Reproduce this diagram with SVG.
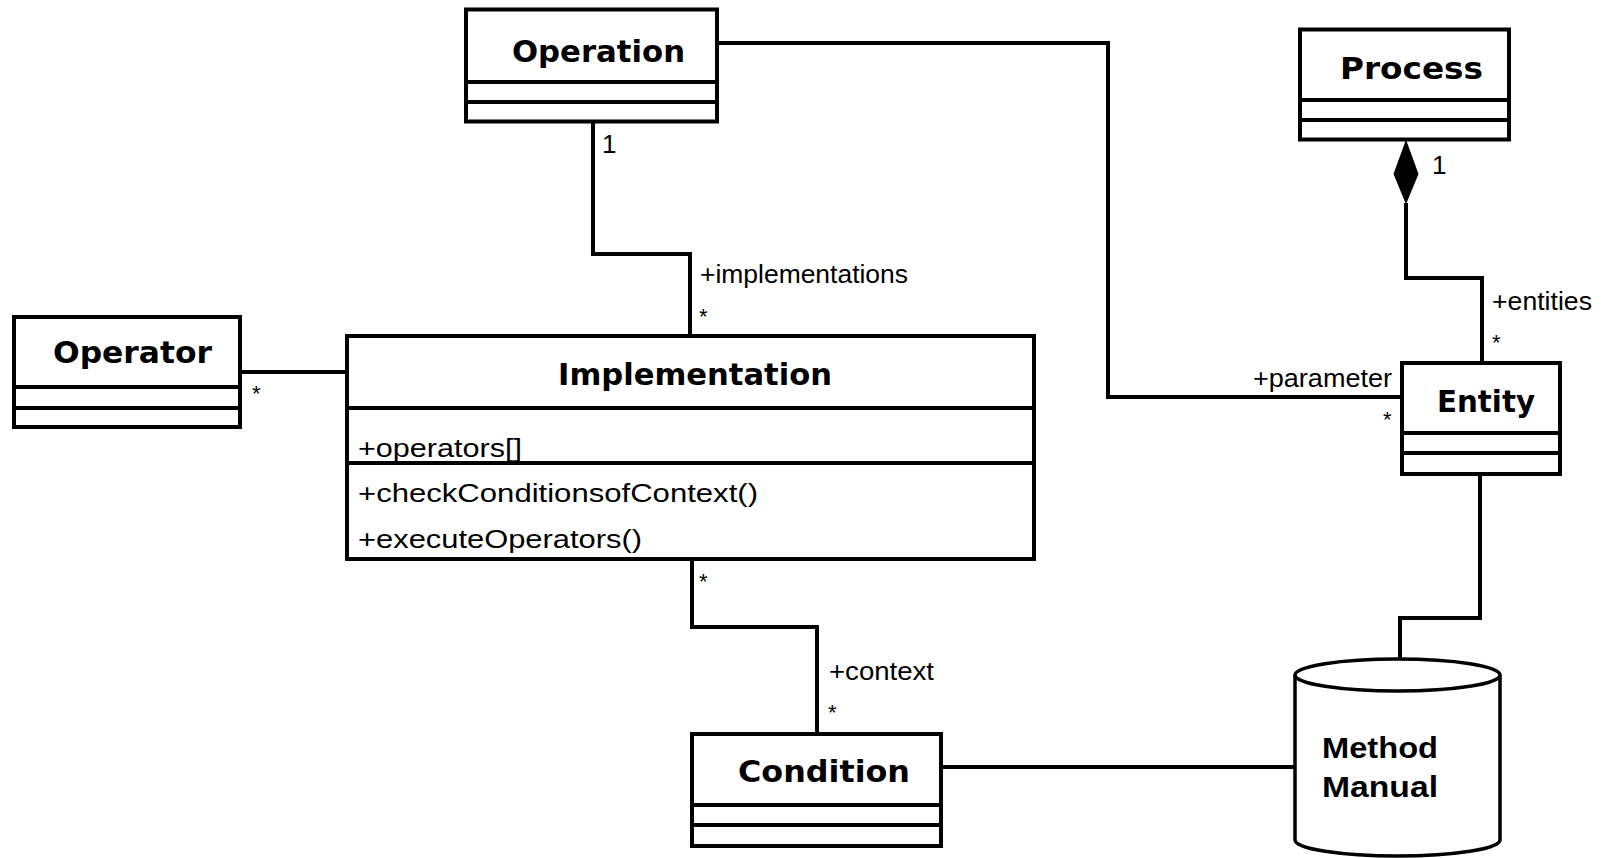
<svg xmlns="http://www.w3.org/2000/svg" width="1602" height="858" viewBox="0 0 1602 858">
<style>
.box{fill:#fff;stroke:#000;stroke-width:4}
.sep{stroke:#000;stroke-width:4}
.edge{fill:none;stroke:#000;stroke-width:4}
.title{font-family:"DejaVu Sans",Verdana,sans-serif;font-weight:bold;font-size:31px;fill:#000}
.lbl{font-family:"Liberation Sans",Arial,sans-serif;font-size:26px;fill:#000}
.star{font-family:"Liberation Sans",Arial,sans-serif;font-size:22px;fill:#000}
.db{font-family:"Liberation Sans",Arial,sans-serif;font-weight:bold;font-size:29px;fill:#000}
</style>
<rect width="1602" height="858" fill="#fff"/>
<g id="connectors">
  <polyline class="edge" points="593,122 593,254 690,254 690,336"/>
  <polyline class="edge" points="717,43 1108,43 1108,397 1402,397"/>
  <polyline class="edge" points="240,372 347,372"/>
  <polyline class="edge" points="692,559 692,627 817,627 817,734"/>
  <polyline class="edge" points="1406,203 1406,278 1482,278 1482,363"/>
  <polygon points="1406,141 1418,174 1406,203 1394,174" fill="#000" stroke="#000" stroke-width="1"/>
  <polyline class="edge" points="1480,474 1480,618 1400,618 1400,659"/>
  <polyline class="edge" points="941,767 1295,767"/>
  <text class="lbl" x="602" y="153">1</text>
  <text class="lbl" x="700" y="283" textLength="208" lengthAdjust="spacingAndGlyphs">+implementations</text>
  <text class="star" x="699" y="324">*</text>
  <text class="star" x="355" y="359">*</text>
  <text class="star" x="252" y="401">*</text>
  <text class="star" x="699" y="589">*</text>
  <text class="lbl" x="829" y="680" textLength="105" lengthAdjust="spacingAndGlyphs">+context</text>
  <text class="star" x="828" y="720">*</text>
  <text class="lbl" x="1432" y="174">1</text>
  <text class="lbl" x="1492" y="310" textLength="100" lengthAdjust="spacingAndGlyphs">+entities</text>
  <text class="star" x="1492" y="350">*</text>
  <text class="lbl" x="1253" y="387" textLength="139" lengthAdjust="spacingAndGlyphs">+parameter</text>
  <text class="star" x="1383" y="427">*</text>
</g>
<g id="operation">
  <rect class="box" x="466" y="9.5" width="251" height="112"/>
  <line class="sep" x1="466" y1="82" x2="717" y2="82"/>
  <line class="sep" x1="466" y1="102" x2="717" y2="102"/>
  <text class="title" x="512" y="62" textLength="173" lengthAdjust="spacingAndGlyphs">Operation</text>
</g>
<g id="process">
  <rect class="box" x="1300" y="29.5" width="209" height="110"/>
  <line class="sep" x1="1300" y1="100" x2="1509" y2="100"/>
  <line class="sep" x1="1300" y1="120" x2="1509" y2="120"/>
  <text class="title" x="1340" y="79" textLength="143" lengthAdjust="spacingAndGlyphs">Process</text>
</g>
<g id="operator">
  <rect class="box" x="14" y="317" width="226" height="110"/>
  <line class="sep" x1="14" y1="387" x2="240" y2="387"/>
  <line class="sep" x1="14" y1="408" x2="240" y2="408"/>
  <text class="title" x="53" y="363" textLength="159" lengthAdjust="spacingAndGlyphs">Operator</text>
</g>
<g id="implementation">
  <rect class="box" x="347" y="336" width="687" height="223"/>
  <line class="sep" x1="347" y1="408" x2="1034" y2="408"/>
  <line class="sep" x1="347" y1="463" x2="1034" y2="463"/>
  <text class="title" x="558" y="385" textLength="274" lengthAdjust="spacingAndGlyphs">Implementation</text>
  <text class="lbl" x="358" y="457" textLength="164" lengthAdjust="spacingAndGlyphs">+operators[]</text>
  <text class="lbl" x="358" y="502" textLength="400" lengthAdjust="spacingAndGlyphs">+checkConditionsofContext()</text>
  <text class="lbl" x="358" y="548" textLength="284" lengthAdjust="spacingAndGlyphs">+executeOperators()</text>
</g>
<g id="entity">
  <rect class="box" x="1402" y="363" width="158" height="111"/>
  <line class="sep" x1="1402" y1="433" x2="1560" y2="433"/>
  <line class="sep" x1="1402" y1="453" x2="1560" y2="453"/>
  <text class="title" x="1437" y="412" textLength="98" lengthAdjust="spacingAndGlyphs">Entity</text>
</g>
<g id="condition">
  <rect class="box" x="692" y="734" width="249" height="112"/>
  <line class="sep" x1="692" y1="805" x2="941" y2="805"/>
  <line class="sep" x1="692" y1="825" x2="941" y2="825"/>
  <text class="title" x="738" y="782" textLength="172" lengthAdjust="spacingAndGlyphs">Condition</text>
</g>
<g id="method-manual">
  <path d="M1295,675 L1295,840 A102.5,16 0 0 0 1500,840 L1500,675" fill="#fff" stroke="#000" stroke-width="3.5"/>
  <ellipse cx="1397.5" cy="675" rx="102.5" ry="16" fill="#fff" stroke="#000" stroke-width="3.5"/>
  <text class="db" x="1322" y="758" textLength="116" lengthAdjust="spacingAndGlyphs">Method</text>
  <text class="db" x="1322" y="797" textLength="116" lengthAdjust="spacingAndGlyphs">Manual</text>
</g>
</svg>
